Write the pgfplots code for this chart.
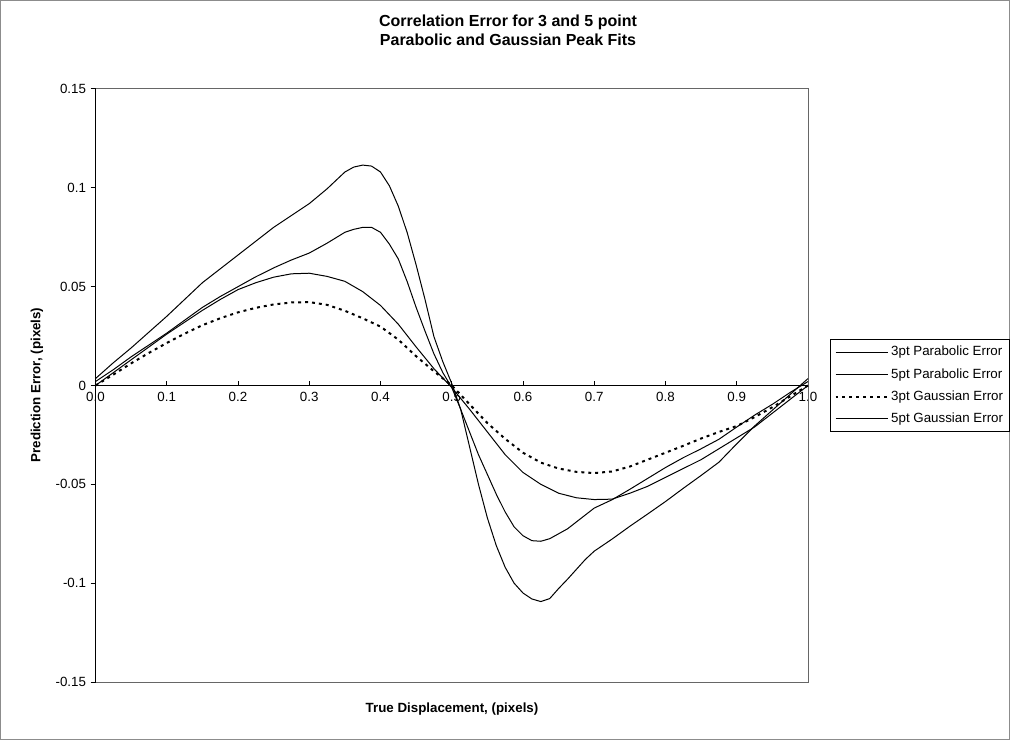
\documentclass[border=0pt]{standalone}
\usepackage{fontspec}
\setmainfont{Liberation Sans}
\usepackage{pgfplots}
\usepackage{pgfplotstable}
\pgfplotsset{compat=1.18}

\pgfplotstableread{
x y
0 0.0035
0.025 0.0115
0.05 0.019
0.075 0.027
0.1 0.035
0.125 0.0435
0.15 0.052
0.175 0.059
0.2 0.066
0.225 0.073
0.25 0.080
0.275 0.086
0.3 0.092
0.325 0.0995
0.35 0.108
0.3625 0.1105
0.375 0.1115
0.3875 0.111
0.4 0.108
0.4125 0.101
0.425 0.0907
0.4375 0.0773
0.45 0.061
0.4625 0.0435
0.475 0.0247
0.4875 0.012
0.5 0.001
0.5125 -0.012
0.525 -0.031
0.5375 -0.050
0.55 -0.067
0.5625 -0.081
0.575 -0.092
0.5875 -0.100
0.6 -0.105
0.6125 -0.108
0.625 -0.1093
0.6375 -0.1078
0.65 -0.1027
0.6625 -0.098
0.675 -0.093
0.6875 -0.088
0.7 -0.0838
0.725 -0.0777
0.75 -0.0712
0.775 -0.065
0.8 -0.0587
0.825 -0.052
0.85 -0.0455
0.875 -0.0388
0.9 -0.0295
0.925 -0.0205
0.95 -0.0125
0.975 -0.0045
1 0.0035
}\parabthree

\pgfplotstableread{
x y
0 0.002
0.025 0.008
0.05 0.0145
0.075 0.0205
0.1 0.0265
0.125 0.033
0.15 0.0395
0.175 0.045
0.2 0.050
0.225 0.055
0.25 0.0595
0.275 0.0635
0.3 0.067
0.325 0.072
0.35 0.0775
0.3625 0.079
0.375 0.080
0.3875 0.080
0.4 0.0775
0.4125 0.0715
0.425 0.064
0.4375 0.0525
0.45 0.0395
0.4625 0.0275
0.475 0.016
0.4875 0.0065
0.5 -0.001
0.5125 -0.012
0.525 -0.0235
0.5375 -0.035
0.55 -0.045
0.5625 -0.055
0.575 -0.064
0.5875 -0.0715
0.6 -0.076
0.6125 -0.0785
0.625 -0.0788
0.6375 -0.0775
0.65 -0.075
0.6625 -0.0725
0.675 -0.069
0.6875 -0.0655
0.7 -0.062
0.725 -0.0578
0.75 -0.0525
0.775 -0.047
0.8 -0.0415
0.825 -0.0365
0.85 -0.032
0.875 -0.0272
0.9 -0.021
0.925 -0.015
0.95 -0.0095
0.975 -0.0035
1 0.002
}\parabfive

\pgfplotstableread{
x y
0 0.0
0.025 0.0055
0.05 0.0112
0.075 0.0165
0.1 0.0215
0.125 0.0262
0.15 0.0305
0.175 0.034
0.2 0.037
0.225 0.0393
0.25 0.041
0.275 0.042
0.3 0.0422
0.325 0.0408
0.35 0.0378
0.375 0.034
0.4 0.0298
0.425 0.0232
0.45 0.0148
0.475 0.0072
0.5 0.0
0.525 -0.0095
0.55 -0.019
0.575 -0.027
0.6 -0.034
0.625 -0.039
0.65 -0.042
0.675 -0.0437
0.7 -0.0443
0.725 -0.0435
0.75 -0.041
0.775 -0.0375
0.8 -0.034
0.825 -0.0305
0.85 -0.0268
0.875 -0.0235
0.9 -0.0205
0.925 -0.016
0.95 -0.011
0.975 -0.0055
1 0.0
}\gaussthree

\pgfplotstableread{
x y
0 0.0
0.025 0.0065
0.05 0.013
0.075 0.0195
0.1 0.026
0.125 0.032
0.15 0.038
0.175 0.0435
0.2 0.0485
0.225 0.052
0.25 0.0548
0.275 0.0565
0.3 0.0568
0.325 0.0552
0.35 0.0527
0.375 0.0475
0.4 0.0405
0.425 0.031
0.45 0.0195
0.475 0.0085
0.5 -0.001
0.525 -0.012
0.55 -0.0235
0.575 -0.035
0.6 -0.044
0.625 -0.050
0.65 -0.0545
0.675 -0.0568
0.7 -0.0577
0.725 -0.0575
0.75 -0.0545
0.775 -0.051
0.8 -0.0465
0.825 -0.042
0.85 -0.0375
0.875 -0.032
0.9 -0.0265
0.925 -0.021
0.95 -0.014
0.975 -0.007
1 0.0
}\gaussfive

\begin{document}
\begin{tikzpicture}[font=\fontsize{10}{12}\selectfont]
\path[use as bounding box] (0,0) rectangle (757.5pt,555pt);
\draw[black!45, line width=0.75pt] (0.6pt,0.6pt) rectangle (756.9pt,554.4pt);
\begin{axis}[
  at={(71.625pt,43.5pt)}, anchor=south west,
  width=534.375pt, height=444.75pt, scale only axis,
  xmin=0, xmax=1, ymin=-0.15, ymax=0.15,
  axis x line*=middle, axis y line*=left,
  hide obscured x ticks=false,
  axis line style={black, line width=0.75pt},
  clip=false,
  xtick={0,0.1,...,1.0},
  xticklabels={0.0,0.1,0.2,0.3,0.4,0.5,0.6,0.7,0.8,0.9,1.0},
  ytick={-0.15,-0.1,-0.05,0,0.05,0.1,0.15},
  yticklabels={-0.15,-0.1,-0.05,0,0.05,0.1,0.15},
  xtick align=inside, ytick align=outside,
  major tick length=3.6pt,
  tick style={black, line width=0.75pt},
  minor tick num=0,
  tick label style={font=\fontsize{10}{12}\selectfont},
  xticklabel style={yshift=-1.5pt},
  legend style={at={(1,0.5)}, anchor=west, xshift=16.5pt,
    draw=black, line width=0.75pt, fill=white,
    font=\fontsize{10}{12}\selectfont, row sep=4pt,
    inner xsep=3pt, inner ysep=3pt,
    cells={anchor=west}},
  legend image code/.code={\draw[#1] (0pt,0pt) -- (39pt,0pt);},
  legend cell align=left,
]
\draw[black!60, line width=0.75pt] (rel axis cs:0,1) -- (rel axis cs:1,1) -- (rel axis cs:1,0) -- (rel axis cs:0,0);
\addplot[black, line width=0.75pt, line join=round] table[x=x,y=y] {\parabthree};
\addlegendentry{3pt Parabolic Error}
\addplot[black, line width=0.75pt, line join=round] table[x=x,y=y] {\parabfive};
\addlegendentry{5pt Parabolic Error}
\addplot[black, line width=1.5pt, dash pattern=on 2.2pt off 3pt] table[x=x,y=y] {\gaussthree};
\addlegendentry{3pt Gaussian Error}
\addplot[black, line width=0.75pt, line join=round] table[x=x,y=y] {\gaussfive};
\addlegendentry{5pt Gaussian Error}
\end{axis}
\node[align=center, font=\bfseries\fontsize{12}{14.25}\selectfont] at (381pt,532pt) {Correlation Error for 3 and 5 point\\Parabolic and Gaussian Peak Fits};
\node[font=\bfseries\fontsize{10}{12}\selectfont] at (339pt,23.25pt) {True Displacement, (pixels)};
\node[font=\bfseries\fontsize{10}{12}\selectfont, rotate=90] at (27.75pt,266.25pt) {Prediction Error, (pixels)};
\end{tikzpicture}
\end{document}
